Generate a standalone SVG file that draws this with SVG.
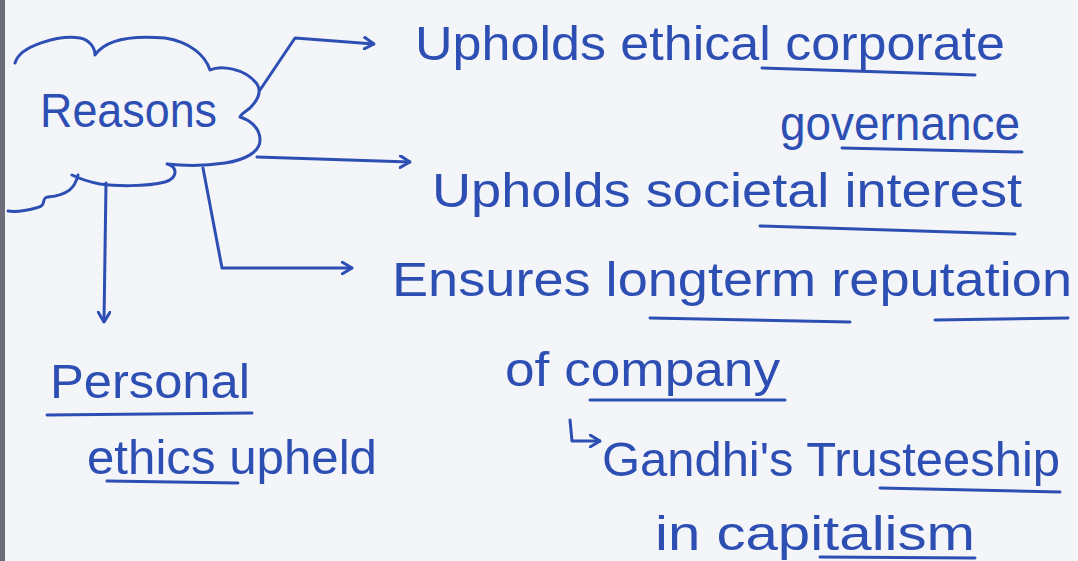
<svg xmlns="http://www.w3.org/2000/svg" width="1078" height="561" viewBox="0 0 1078 561">
<style>
.ink{fill:none;stroke:#2d4fb4;stroke-width:3;stroke-linecap:round;stroke-linejoin:round}
.t{font-family:"Liberation Sans","DejaVu Sans",sans-serif;font-size:48px;fill:#2d4fb4}
</style>
<defs>
<marker id="chev" viewBox="0 0 12 14" refX="11" refY="7" markerWidth="12" markerHeight="14" markerUnits="userSpaceOnUse" orient="auto">
<path d="M1,1 L11,7 L1,13" fill="none" stroke="#2d4fb4" stroke-width="3" stroke-linecap="round" stroke-linejoin="round"/>
</marker>
</defs>
<rect width="1078" height="561" fill="#f4f5f9"/>
<rect width="5" height="561" fill="#6b6e78"/>
<g id="reasons">
<path class="ink" d="M15,63 C20,45 60,35 80,38 C90,40 95,48 95,55 C105,40 130,35 165,38 C190,42 205,55 210,70 C220,65 245,68 257,84 C262,92 258,100 250,108 C245,112 240,115 240,117 C250,120 260,128 260,140 C260,152 245,160 225,163 C205,166 185,166 167,164 C178,167 178,178 165,182 C145,187 115,186 100,184 C90,182 82,180 72,175"/>
<path class="ink" d="M78,175 C75,188 68,195 48,197 C40,198 48,206 36,208 C25,211 15,212 8,211"/>
<text class="t" x="40" y="127" textLength="177" lengthAdjust="spacingAndGlyphs">Reasons</text>
</g>
<g id="connectors">
<polyline class="ink" points="260,90 295,38 374,44" marker-end="url(#chev)"/>
<polyline class="ink" points="257,157 410,162" marker-end="url(#chev)"/>
<polyline class="ink" points="203,168 222,268 352,268" marker-end="url(#chev)"/>
<polyline class="ink" points="106,183 104,322" marker-end="url(#chev)"/>
<polyline class="ink" points="570,420 572,441 600,441" marker-end="url(#chev)"/>
</g>
<g id="n1">
<text class="t" x="415" y="60" textLength="590" lengthAdjust="spacingAndGlyphs">Upholds ethical corporate</text>
<path class="ink" d="M762,68 L975,75"/>
<text class="t" x="780" y="140" textLength="240" lengthAdjust="spacingAndGlyphs">governance</text>
<path class="ink" d="M842,148 L1022,152"/>
</g>
<g id="n2">
<text class="t" x="432" y="207" textLength="590" lengthAdjust="spacingAndGlyphs">Upholds societal interest</text>
<path class="ink" d="M760,226 L1015,234"/>
</g>
<g id="n3">
<text class="t" x="392" y="296" textLength="680" lengthAdjust="spacingAndGlyphs">Ensures longterm reputation</text>
<path class="ink" d="M650,318 L850,322"/>
<path class="ink" d="M935,320 L1068,318"/>
<text class="t" x="505" y="386" textLength="275" lengthAdjust="spacingAndGlyphs">of company</text>
<path class="ink" d="M590,400 L785,400"/>
</g>
<g id="n4">
<text class="t" x="602" y="476" textLength="458" lengthAdjust="spacingAndGlyphs">Gandhi's Trusteeship</text>
<path class="ink" d="M880,488 L1060,492"/>
<text class="t" x="655" y="550" textLength="320" lengthAdjust="spacingAndGlyphs">in capitalism</text>
<path class="ink" d="M820,557 L975,558"/>
</g>
<g id="n5">
<text class="t" x="50" y="398" textLength="200" lengthAdjust="spacingAndGlyphs">Personal</text>
<path class="ink" d="M47,415 L252,413"/>
<text class="t" x="87" y="474" textLength="290" lengthAdjust="spacingAndGlyphs">ethics upheld</text>
<path class="ink" d="M107,481 L238,483"/>
</g>
</svg>
